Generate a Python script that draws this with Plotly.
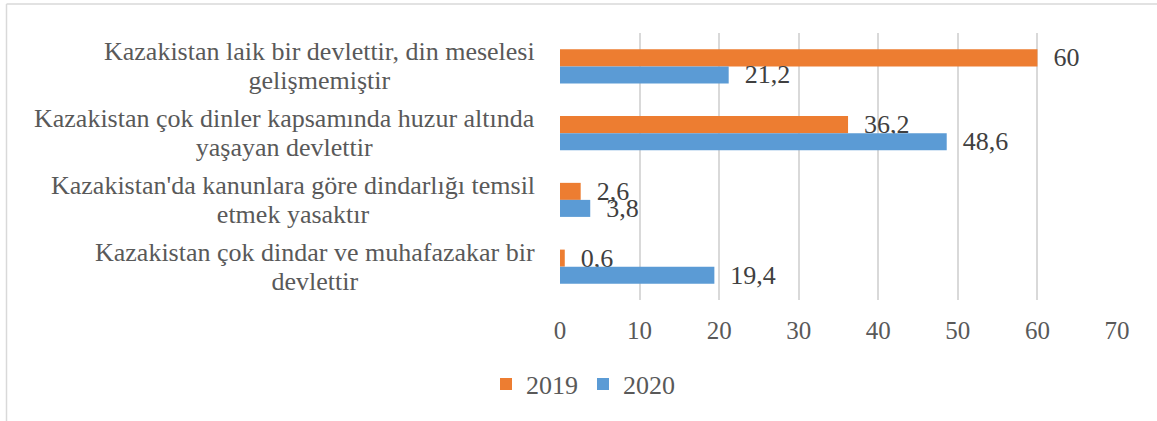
import plotly.graph_objects as go

categories = [
    "Kazakistan laik bir devlettir, din meselesi<br>gelişmemiştir",
    "Kazakistan çok dinler kapsamında huzur altında<br>yaşayan devlettir",
    "Kazakistan'da kanunlara göre dindarlığı temsil<br>etmek yasaktır",
    "Kazakistan çok dindar ve muhafazakar bir<br>devlettir",
]
values_2019 = [60, 36.2, 2.6, 0.6]
values_2020 = [21.2, 48.6, 3.8, 19.4]
tick_vals = [0, 10, 20, 30, 40, 50, 60, 70]

def fmt(v):
    s = ("%g" % v).replace(".", ",")
    return "  " + s

W, H = 1157, 421
L, R, T, B = 560, 40, 33, 121
pw = W - L - R
ph = H - T - B

def px_x(p):
    return (p - L) / pw

def px_y(p):
    return (H - B - p) / ph

FONT = "Liberation Serif"

fig = go.Figure()
for name, vals, col in [("2019", values_2019, "#ED7D31"), ("2020", values_2020, "#5B9BD5")]:
    fig.add_trace(go.Bar(
        y=categories, x=vals, orientation="h", name=name,
        marker=dict(color=col, line=dict(width=0)),
        text=[fmt(v) for v in vals], textposition="outside",
        constraintext="none",
        textfont=dict(family=FONT, size=26, color="#404040"),
        cliponaxis=False,
    ))

for c in categories:
    lines = c.split("<br>")
    styled = "<br>".join('<span style="font-size:26px">%s</span>' % ln for ln in lines)
    fig.add_annotation(
        x=px_x(537), xref="paper", y=c, yref="y",
        text=styled, showarrow=False, xanchor="right", yanchor="middle",
        align="center",
        font=dict(family=FONT, size=22, color="#595959"),
    )

# chart border (top and left edges visible)
fig.add_shape(type="line", xref="paper", yref="paper",
              x0=px_x(6.5), x1=px_x(1157), y0=px_y(4), y1=px_y(4),
              line=dict(color="#D9D9D9", width=1.5))
fig.add_shape(type="line", xref="paper", yref="paper",
              x0=px_x(6.5), x1=px_x(6.5), y0=px_y(4), y1=px_y(421),
              line=dict(color="#D9D9D9", width=1.5))

fig.update_layout(
    width=W, height=H,
    margin=dict(l=L, r=R, t=T, b=B),
    paper_bgcolor="white", plot_bgcolor="white",
    barmode="group", bargap=0.49, bargroupgap=0,
    legend=dict(orientation="h", x=px_x(583), y=px_y(384),
                xanchor="center", yanchor="middle",
                font=dict(family=FONT, size=26, color="#595959"),
                itemwidth=30, traceorder="normal"),
    xaxis=dict(range=[0, 70], tickvals=tick_vals, showgrid=True,
               gridcolor="#D9D9D9", gridwidth=1.5, zeroline=False,
               showline=False, ticks="", ticklabelstandoff=13,
               tickfont=dict(family=FONT, size=25, color="#595959")),
    yaxis=dict(autorange="reversed", showticklabels=False, showgrid=False,
               showline=False, zeroline=False, ticks=""),
    showlegend=True,
)

fig.write_html("out.html", config={"displayModeBar": False},
               post_script="document.body.style.margin='0px';")
